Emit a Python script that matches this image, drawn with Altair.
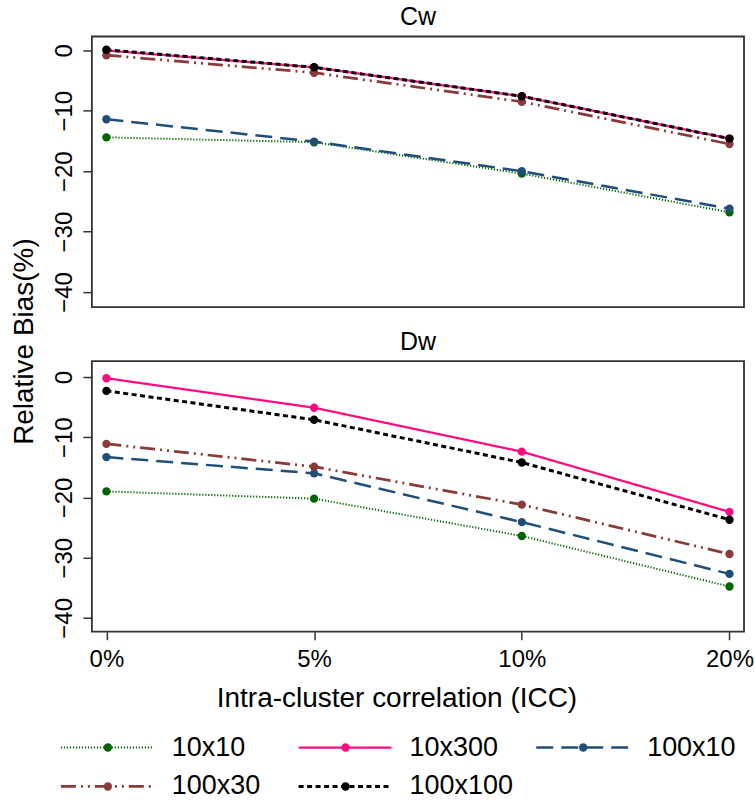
import altair as alt
import pandas as pd

icc = ["0%", "5%", "10%", "20%"]
series = ["10x10", "10x300", "100x10", "100x30", "100x100"]
colors = ["#006400", "#FF0A80", "#1F4E79", "#8B3A3A", "#000000"]
dashes = [[1.2, 1.8], [1, 0], [17, 8], [15, 5, 2, 5, 2, 5], [5, 3.5]]
widths = [2, 3, 2.5, 2.5, 2.5]

cw = {
    "10x10": [-14.4, -15.2, -20.4, -26.8],
    "10x300": [0.0, -2.8, -7.6, -14.6],
    "100x10": [-11.4, -15.1, -20.0, -26.2],
    "100x30": [-0.8, -3.7, -8.5, -15.5],
    "100x100": [0.1, -2.8, -7.6, -14.6],
}
dw = {
    "10x10": [-19.0, -20.2, -26.4, -34.8],
    "10x300": [-0.2, -5.1, -12.4, -22.4],
    "100x10": [-13.3, -16.0, -24.1, -32.7],
    "100x30": [-11.1, -14.9, -21.2, -29.4],
    "100x100": [-2.3, -7.1, -14.2, -23.7],
}

FONT = "Liberation Sans"


def long_df(d):
    rows = []
    for s in series:
        for k, v in zip(icc, d[s]):
            rows.append({"series": s, "icc": k, "value": v})
    return pd.DataFrame(rows)


color_enc = alt.Color("series:N", scale=alt.Scale(domain=series, range=colors), legend=None)
dash_enc = alt.StrokeDash("series:N", scale=alt.Scale(domain=series, range=dashes), legend=None)
width_enc = alt.StrokeWidth("series:N", scale=alt.Scale(domain=series, range=widths), legend=None)

W, H = 653, 271


def panel(d, title, ydom, bottom):
    df = long_df(d)
    if bottom:
        xax = alt.Axis(
            labelFontSize=24, labelAngle=0, tickSize=8, tickWidth=1.5, tickColor="#333",
            labelPadding=8, domain=False, grid=False, labelColor="black",
            title="Intra-cluster correlation (ICC)", titleFontSize=28, titleFontWeight="normal",
            titleX=305, titleY=75, titleBaseline="alphabetic", titleAlign="center",
            titleColor="black", labelFont=FONT, titleFont=FONT,
        )
        yax = alt.Axis(
            values=[0, -10, -20, -30, -40], labelAngle=270, labelAlign="center",
            labelBaseline="alphabetic", labelPadding=11, labelFontSize=24, tickSize=9,
            tickWidth=1.5, tickColor="#333", domain=False, grid=False, labelColor="black",
            title="Relative Bias(%)", titleFontSize=28, titleFontWeight="normal",
            titleAngle=270, titleX=-59, titleY=-20, titleAlign="center",
            titleBaseline="alphabetic", titleColor="black", labelFont=FONT, titleFont=FONT,
        )
    else:
        xax = None
        yax = alt.Axis(
            values=[0, -10, -20, -30, -40], labelAngle=270, labelAlign="center",
            labelBaseline="alphabetic", labelPadding=11, labelFontSize=24, tickSize=9,
            tickWidth=1.5, tickColor="#333", domain=False, grid=False, labelColor="black",
            title=None, labelFont=FONT,
        )
    x = alt.X("icc:N", sort=icc, scale=alt.Scale(type="point", domain=icc, padding=0.07), axis=xax)
    y = alt.Y("value:Q", scale=alt.Scale(domain=ydom, nice=False, zero=False), axis=yax)
    base = alt.Chart(df)
    lines = base.mark_line().encode(x=x, y=y, color=color_enc, strokeDash=dash_enc,
                                    strokeWidth=width_enc, detail="series:N")
    pts = base.mark_point(filled=True, size=70, opacity=1).encode(x=x, y=y, color=color_enc)
    ttl = alt.Chart(pd.DataFrame({"t": [title]})).mark_text(
        fontSize=25, font=FONT, color="black", baseline="alphabetic", align="center"
    ).encode(text="t:N", x=alt.value(W / 2), y=alt.value(-11))
    return alt.layer(lines, pts, ttl).properties(width=W, height=H)


top = panel(cw, "Cw", [-42.5, 2.3], False)
bot = panel(dw, "Dw", [-42.3, 2.65], True)

leg_df = pd.DataFrame({
    "series": series,
    "col": [i % 3 for i in range(len(series))],
    "row": [i // 3 for i in range(len(series))],
})
lx = alt.X("col:Q", scale=alt.Scale(domain=[0, 2], range=[-31, 445]), axis=None)
lx2 = alt.X2("col")
ly = alt.Y("row:Q", scale=alt.Scale(domain=[0, 1], range=[62, 101]), axis=None)
lb = alt.Chart(leg_df)
leg_lines = lb.mark_rule(x2Offset=93).encode(x=lx, x2=lx2, y=ly, color=color_enc,
                                            strokeDash=dash_enc, strokeWidth=width_enc)
leg_pts = lb.mark_point(filled=True, size=70, opacity=1, xOffset=47).encode(x=lx, y=ly, color=color_enc)
leg_txt = lb.mark_text(align="left", baseline="middle", fontSize=27, font=FONT,
                       xOffset=111, color="black").encode(x=lx, y=ly, text="series:N")
legend = alt.layer(leg_lines, leg_pts, leg_txt).properties(
    width=W, height=110, view=alt.ViewBackground(stroke=None))

chart = alt.vconcat(top, bot, legend, spacing=54, bounds="flush").properties(
    autosize=alt.AutoSizeParams(type="pad"),
    padding={"left": 10, "top": 4, "right": 0, "bottom": 0},
).configure(font=FONT).configure_view(stroke="#333", strokeWidth=1.8)

chart.save("out.html", embed_options={"renderer": "svg", "actions": False})
